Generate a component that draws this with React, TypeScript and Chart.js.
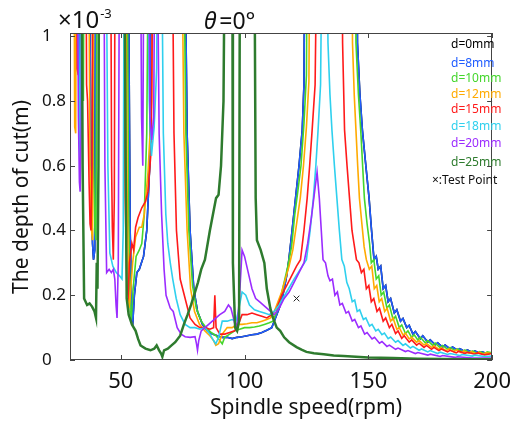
import React, { useEffect, useRef } from "react";
import { Chart, registerables } from "chart.js";

Chart.register(...registerables);

const speedTicks = [50, 100, 150, 200];
const depthTicks = [0, 0.2, 0.4, 0.6, 0.8, 1];
const legendLabels = ["d=0mm", "d=8mm", "d=10mm", "d=12mm", "d=15mm", "d=18mm", "d=20mm", "d=25mm"];
const testPoint = [[121, 0.19]];

// [spindle speed (rpm), depth of cut (x1e-3 m)]; values above 1 run off the top
const d8Points = [
  [29.5, 1.6], [33.0, 1.6], [33.5, 0.78], [33.9, 0.74], [34.3, 1.6], [37.0, 1.6], [38.0, 0.6], [38.6, 0.36], [39.0, 0.31], [39.5, 0.34], [40.0, 1.6],
  [52.8, 1.6], [53.8, 0.4], [54.5, 0.13], [54.9, 0.12], [55.5, 0.2], [56.5, 0.27], [57.5, 0.28], [59.2, 0.32], [60.5, 0.4], [61.7, 0.6], [62.6, 1.6],
  [75.5, 1.6], [76.8, 0.7], [78.0, 0.4], [79.5, 0.22], [81, 0.15], [83, 0.11], [85, 0.09], [87, 0.08], [89, 0.075], [91, 0.07], [93, 0.07], [95, 0.066],
  [97, 0.07], [99, 0.072], [101, 0.075], [103, 0.078], [105, 0.08], [107, 0.085], [109, 0.092], [111, 0.1], [112.5, 0.13], [114, 0.16], [115.5, 0.2],
  [117, 0.26], [117.9, 0.31], [119.2, 0.4], [120.6, 0.5], [122, 0.6], [123.3, 0.71], [124, 0.85], [124.6, 1.6],
  [145.2, 1.6], [145.6, 0.98], [146.6, 0.82], [147.6, 0.71], [149, 0.6], [150.3, 0.5], [151.3, 0.4], [152.3, 0.31], [153.2, 0.32], [154, 0.28],
  [155, 0.29], [156, 0.22], [157, 0.23], [158, 0.18], [159, 0.19], [160.5, 0.145], [161.5, 0.155], [163, 0.12], [164, 0.128], [165.5, 0.1],
  [166.5, 0.107], [168, 0.08], [169, 0.088], [171, 0.066], [172, 0.075], [174, 0.055], [175, 0.062], [177, 0.047], [178, 0.053], [180, 0.04],
  [181, 0.046], [183, 0.034], [184, 0.04], [186, 0.03], [187, 0.035], [189, 0.026], [190, 0.031], [192, 0.023], [193, 0.028], [195, 0.021],
  [196, 0.025], [198, 0.019], [200, 0.023],
];
const d0Points = d8Points;

const d10Points = [
  [29.5, 1.6], [34.0, 1.6], [34.5, 0.82], [34.9, 0.8], [35.3, 1.6], [38.0, 1.6], [39.0, 0.6], [39.6, 0.4], [40.0, 0.37], [40.5, 1.6],
  [52.3, 1.6], [53.2, 0.45], [53.8, 0.15], [54.3, 0.13], [55.0, 0.22], [56.2, 0.32], [57.5, 0.34], [58.5, 0.36], [59.5, 0.45], [60.5, 0.7], [61.5, 1.6],
  [75.0, 1.6], [76.3, 0.7], [77.5, 0.4], [79, 0.23], [80.5, 0.16], [82.5, 0.12], [84.5, 0.1], [86.5, 0.085], [88.5, 0.075], [90, 0.06], [91, 0.05],
  [92, 0.07], [94, 0.08], [96, 0.09], [98, 0.095], [100, 0.1], [102, 0.1], [104, 0.102], [106, 0.105], [108, 0.11], [110, 0.115], [111.5, 0.12],
  [113, 0.15], [114.5, 0.19], [116, 0.24], [117.5, 0.29], [119, 0.35], [120.3, 0.45], [121.5, 0.52], [122.8, 0.6], [124, 0.73], [125, 0.88], [125.5, 1.6],
  [144.5, 1.6], [145, 0.98], [146, 0.82], [147, 0.7], [148.4, 0.5], [149.5, 0.42], [150.5, 0.36], [151.2, 0.3], [152.2, 0.31], [153.2, 0.25],
  [154.2, 0.26], [155.2, 0.2], [156.2, 0.21], [157.5, 0.16], [158.5, 0.17], [160, 0.125], [161, 0.135], [162.5, 0.1], [163.5, 0.108], [165, 0.082],
  [166, 0.09], [167.5, 0.07], [168.5, 0.078], [170, 0.062], [171, 0.07], [173, 0.053], [174, 0.06], [176, 0.045], [177, 0.052], [179, 0.038],
  [180, 0.045], [182, 0.033], [183, 0.039], [185, 0.029], [186, 0.034], [188, 0.025], [189, 0.031], [191, 0.022], [192, 0.028], [194, 0.02],
  [195, 0.026], [197, 0.019], [198, 0.025], [200, 0.022],
];

const d12Points = [
  [29.5, 1.6], [31.0, 1.6], [31.4, 0.72], [31.8, 0.7], [32.2, 1.6], [36.8, 1.6], [37.6, 0.6], [38.2, 0.4], [38.6, 0.37], [39.2, 1.6],
  [51.8, 1.6], [52.6, 0.5], [53.3, 0.16], [53.8, 0.19], [54.8, 0.3], [56, 0.38], [57.5, 0.41], [58.5, 0.41], [59.5, 0.45], [61, 0.58], [62.5, 0.8], [63.5, 1.6],
  [74.3, 1.6], [75.5, 0.7], [76.8, 0.4], [78.2, 0.22], [79.8, 0.15], [81.8, 0.11], [84, 0.09], [86, 0.075], [87.5, 0.06], [88.4, 0.045], [89.5, 0.05],
  [91, 0.08], [93, 0.1], [95, 0.1], [97, 0.11], [99, 0.11], [101, 0.112], [103, 0.115], [105, 0.115], [107, 0.12], [109, 0.125], [110.5, 0.13],
  [112, 0.15], [113.5, 0.18], [115, 0.21], [116.5, 0.25], [118, 0.29], [119.5, 0.34], [121, 0.42], [122.5, 0.5], [123.8, 0.6], [125, 0.72],
  [126, 0.86], [126.6, 1.6], [143.2, 1.6], [143.6, 0.98], [144.3, 0.82], [145, 0.71], [145.7, 0.6], [146.4, 0.5], [147.4, 0.42], [148.3, 0.35],
  [149.2, 0.31], [150.4, 0.28], [151.4, 0.29], [152.4, 0.22], [153.4, 0.23], [154.4, 0.18], [155.4, 0.19], [156.6, 0.15], [157.6, 0.16], [159, 0.12],
  [160, 0.13], [161.5, 0.095], [162.5, 0.1], [164, 0.077], [165, 0.083], [166.5, 0.065], [167.5, 0.07], [169.5, 0.055], [170.5, 0.06],
  [172.5, 0.046], [173.5, 0.051], [175.5, 0.039], [176.5, 0.044], [178.5, 0.033], [179.5, 0.038], [181.5, 0.029], [182.5, 0.034], [184.5, 0.026],
  [185.5, 0.031], [187.5, 0.023], [188.5, 0.028], [190.5, 0.021], [191.5, 0.026], [193.5, 0.019], [194.5, 0.024], [196.5, 0.018], [197.5, 0.022],
  [200, 0.02],
];

const d15Points = [
  [29.5, 1.6], [32.0, 1.6], [32.4, 0.9], [32.8, 0.88], [33.2, 1.6], [35.8, 1.6], [36.2, 0.85], [36.6, 0.8], [37.2, 0.55], [37.6, 0.42], [38, 0.4],
  [38.4, 0.6], [38.8, 1.6], [45.8, 1.6], [46.3, 0.6], [46.6, 0.41], [47.0, 0.31], [47.4, 0.5], [47.8, 1.6], [50.8, 1.6], [51.8, 0.5], [52.5, 0.22],
  [53.0, 0.2], [53.5, 0.3], [54.5, 0.36], [55.2, 0.34], [56, 0.41], [57, 0.44], [58.5, 0.47], [60, 0.49], [61, 0.52], [62.3, 0.65], [63.3, 1.6],
  [70.5, 1.6], [71.5, 0.7], [72.5, 0.4], [74, 0.25], [76, 0.19], [78, 0.13], [80, 0.11], [82, 0.1], [84, 0.1], [86, 0.095], [87.5, 0.1], [88, 0.2],
  [88.5, 0.1], [90, 0.08], [92, 0.08], [94, 0.085], [96, 0.09], [98, 0.12], [99, 0.14], [101, 0.14], [103, 0.145], [105, 0.14], [107, 0.135],
  [109, 0.13], [111, 0.14], [113, 0.16], [115, 0.2], [117, 0.23], [119, 0.26], [121, 0.29], [122.6, 0.31], [124, 0.4], [125.3, 0.5], [126.3, 0.6],
  [127.3, 0.71], [128.5, 0.85], [129.7, 1.6], [139.2, 1.6], [139.6, 0.98], [140.4, 0.71], [141.4, 0.6], [142.4, 0.5], [143.4, 0.4], [144.2, 0.36],
  [145.2, 0.31], [146.2, 0.3], [147.2, 0.27], [148.2, 0.28], [149.2, 0.22], [150.2, 0.23], [151.2, 0.18], [152.2, 0.19], [153.5, 0.15], [154.5, 0.16],
  [156, 0.12], [157, 0.13], [158.5, 0.1], [159.5, 0.11], [161, 0.082], [162, 0.09], [163.5, 0.067], [164.5, 0.075], [166.5, 0.055], [167.5, 0.062],
  [169.5, 0.046], [170.5, 0.052], [172.5, 0.039], [173.5, 0.045], [175.5, 0.033], [176.5, 0.039], [178.5, 0.029], [179.5, 0.034], [182, 0.025],
  [183, 0.03], [185.5, 0.022], [186.5, 0.027], [189, 0.02], [190, 0.024], [193, 0.018], [194, 0.022], [197, 0.016], [200, 0.02],
];

const d18Points = [
  [29.5, 1.6], [32.5, 1.6], [33.2, 0.7], [33.6, 0.62], [34.2, 1.6], [43.8, 1.6], [44.8, 0.6], [45.6, 0.33], [46.8, 0.29], [48.2, 0.27], [49.5, 0.26],
  [50.5, 0.25], [51, 0.4], [51.5, 1.6], [60.5, 1.6], [61.5, 0.8], [62.4, 0.63], [63.5, 0.72], [64.5, 0.9], [65.2, 1.6], [66.2, 1.6], [67.2, 0.7],
  [68.2, 0.45], [69, 0.36], [70, 0.3], [71, 0.25], [72.4, 0.19], [74, 0.14], [76, 0.11], [78, 0.1], [80, 0.1], [82, 0.095], [84, 0.1], [86, 0.08],
  [87.5, 0.06], [88.4, 0.05], [89.5, 0.07], [91, 0.12], [93, 0.12], [95, 0.125], [96.5, 0.12], [97.5, 0.15], [99, 0.21], [100.5, 0.2], [102, 0.17],
  [104, 0.155], [106, 0.15], [108, 0.145], [110, 0.14], [112, 0.15], [114, 0.17], [117, 0.21], [120, 0.25], [122.5, 0.28], [125, 0.31], [126.5, 0.4],
  [127.8, 0.5], [128.8, 0.6], [129.7, 0.71], [130.7, 0.85], [131.7, 1.6], [133, 1.6], [133.7, 0.98], [134.5, 0.82], [135.3, 0.71], [136.3, 0.6],
  [137.3, 0.5], [138.3, 0.4], [139.3, 0.31], [140.3, 0.29], [141.3, 0.24], [142.3, 0.22], [143.5, 0.18], [144.5, 0.185], [145.5, 0.15],
  [146.5, 0.155], [148, 0.125], [149, 0.13], [150.5, 0.105], [151.5, 0.11], [153, 0.09], [154, 0.095], [155.5, 0.078], [156.5, 0.083], [158, 0.066],
  [159, 0.071], [161, 0.055], [162, 0.06], [164, 0.045], [165, 0.05], [167, 0.037], [168, 0.042], [170.5, 0.03], [171.5, 0.034], [174, 0.025],
  [175, 0.029], [178, 0.02], [179, 0.024], [182, 0.017], [183, 0.02], [187, 0.014], [188, 0.017], [192, 0.012], [193, 0.015], [197, 0.011],
  [200, 0.012],
];

const d20Points = [
  [29.5, 1.6], [32.3, 1.6], [32.9, 0.75], [33.3, 0.55], [33.6, 0.52], [34.0, 0.72], [34.5, 1.6], [43.0, 1.6], [43.6, 0.6], [44.3, 0.27], [45.3, 0.28],
  [46.2, 0.27], [47.0, 0.28], [47.6, 0.25], [48.1, 0.17], [48.5, 0.13], [49.0, 0.3], [49.6, 1.6], [57.8, 1.6], [58.4, 0.75], [58.9, 0.6], [59.5, 1.6],
  [61.0, 1.6], [61.8, 0.75], [62.5, 0.68], [63.3, 0.75], [64.0, 1.6], [64.4, 1.6], [65.5, 0.7], [66.5, 0.45], [67.5, 0.28], [68.3, 0.2], [70, 0.16],
  [71.2, 0.15], [72.8, 0.1], [74.4, 0.08], [76, 0.072], [78, 0.07], [80, 0.072], [80.6, 0.05], [81, 0.03], [81.5, 0.06], [82.5, 0.09], [84, 0.1],
  [85.5, 0.11], [87, 0.12], [88.5, 0.13], [90, 0.14], [92, 0.15], [93.5, 0.17], [94.5, 0.16], [95.5, 0.13], [96.4, 0.1], [97.2, 0.12], [98, 0.2],
  [99, 0.34], [100, 0.32], [101.5, 0.27], [103, 0.22], [104.5, 0.19], [106, 0.18], [107.5, 0.17], [109, 0.16], [110.5, 0.15], [112, 0.14],
  [114, 0.16], [116, 0.19], [118, 0.21], [120, 0.24], [122, 0.27], [124, 0.3], [125.5, 0.36], [127, 0.44], [128.3, 0.52], [129.3, 0.58],
  [130.2, 0.5], [131, 0.4], [131.7, 0.31], [132.7, 0.3], [133.7, 0.26], [134.5, 0.245], [135.5, 0.25], [136.5, 0.2], [137.5, 0.21], [138.5, 0.17],
  [139.5, 0.175], [141, 0.145], [142, 0.15], [143.5, 0.12], [144.5, 0.125], [146, 0.1], [147, 0.105], [148.5, 0.08], [149.5, 0.085], [151.5, 0.065],
  [152.5, 0.07], [154.5, 0.052], [155.5, 0.057], [157.5, 0.042], [158.5, 0.046], [161, 0.033], [162, 0.037], [165, 0.026], [166, 0.029], [169, 0.02],
  [170, 0.023], [174, 0.015], [175, 0.018], [179, 0.011], [180, 0.014], [185, 0.008], [186, 0.01], [192, 0.006], [200, 0.006],
];

const d25Points = [
  [29.5, 1.6], [34.0, 1.6], [34.6, 0.6], [35.2, 0.19], [36.4, 0.17], [37.4, 0.175], [38.4, 0.165], [39.4, 0.15], [40.0, 0.13], [40.3, 0.3],
  [40.6, 0.22], [41.0, 0.6], [41.3, 1.6], [51.3, 1.6], [52, 0.6], [52.4, 0.19], [53.2, 0.14], [54.5, 0.11], [56, 0.09], [57, 0.065], [58, 0.045],
  [60, 0.035], [62, 0.03], [63.5, 0.035], [64.5, 0.045], [65.5, 0.03], [66.3, 0.02], [66.8, 0.01], [67.5, 0.03], [69, 0.035], [70.5, 0.045], [72, 0.055],
  [74, 0.075], [75.5, 0.11], [77, 0.14], [78.4, 0.17], [80, 0.21], [81.2, 0.24], [82.5, 0.28], [84, 0.31], [86, 0.4], [87.5, 0.46], [88.5, 0.5],
  [89.5, 0.51], [90.5, 0.6], [91.5, 0.8], [92.3, 1.6], [95, 1.6], [95.3, 0.3], [96.2, 0.1], [97, 0.09], [97.8, 0.12], [98.2, 1.6], [103.8, 1.6],
  [104.5, 0.5], [105, 0.37], [106.5, 0.34], [108, 0.3], [109, 0.22], [110.4, 0.16], [111.5, 0.13], [113, 0.1], [114.4, 0.09], [116, 0.07],
  [118, 0.055], [121, 0.04], [123, 0.032], [125, 0.025], [128, 0.021], [132, 0.018], [136, 0.014], [140, 0.012], [145, 0.01], [150, 0.008],
  [160, 0.006], [170, 0.004], [180, 0.003], [190, 0.002], [200, 0.002],
];

const seriesPoints = [d0Points, d8Points, d10Points, d12Points, d15Points, d18Points, d20Points, d25Points];
const seriesColors = ["#000000", "#1f5cff", "#44d62c", "#ffaa00", "#ff1a1a", "#2fd0ee", "#9b2cff", "#2e7b2e"];
const seriesWidths = [1.6, 1.6, 1.6, 1.6, 1.6, 1.6, 1.6, 2.5];

const FONT = '"Noto Sans", "Open Sans", sans-serif';

const overlay = {
  id: "overlay",
  afterDraw(chart: any) {
    const { ctx, chartArea: a, scales } = chart;
    ctx.save();
    ctx.strokeStyle = "#444";
    ctx.lineWidth = 1;
    ctx.strokeRect(Math.round(a.left) + 0.5, Math.round(a.top) + 0.5, Math.round(a.right - a.left) - 1, Math.round(a.bottom - a.top) - 1);
    ctx.beginPath();
    for (const v of depthTicks) {
      const y = Math.round(scales.y.getPixelForValue(v)) + 0.5;
      ctx.moveTo(a.left, y); ctx.lineTo(a.left + 5, y);
      ctx.moveTo(a.right, y); ctx.lineTo(a.right - 5, y);
    }
    for (const v of speedTicks) {
      const x = Math.round(scales.x.getPixelForValue(v)) + 0.5;
      ctx.moveTo(x, a.bottom); ctx.lineTo(x, a.bottom - 5);
      ctx.moveTo(x, a.top); ctx.lineTo(x, a.top + 5);
    }
    ctx.stroke();

    ctx.fillStyle = "#111";
    ctx.textAlign = "center";
    ctx.textBaseline = "middle";
    ctx.font = `21px ${FONT}`;
    ctx.fillText("Spindle speed(rpm)", 306, 408);
    ctx.save();
    ctx.translate(22, 197);
    ctx.rotate(-Math.PI / 2);
    ctx.fillText("The depth of cut(m)", 0, 0);
    ctx.restore();

    ctx.textAlign = "left";
    ctx.textBaseline = "alphabetic";
    ctx.font = `24px ${FONT}`;
    ctx.fillText("×10", 58, 28);
    const w = ctx.measureText("×10").width;
    ctx.font = `13px ${FONT}`;
    ctx.fillText("-3", 58 + w + 1, 18);
    ctx.font = `italic 23px ${FONT}`;
    ctx.fillText("θ", 204, 29);
    const tw = ctx.measureText("θ").width;
    ctx.font = `23px ${FONT}`;
    ctx.fillText("=0°", 204 + tw + 3, 29);

    ctx.font = `12px ${FONT}`;
    ctx.textBaseline = "middle";
    const ys = [45, 64, 79, 95, 110, 127, 144, 163];
    legendLabels.forEach((t, i) => {
      ctx.fillStyle = seriesColors[i];
      ctx.fillText(t, 451, ys[i]);
    });
    ctx.fillStyle = "#111";
    ctx.fillText("×:Test Point", 432, 181);
    ctx.restore();
  },
};

export default function App() {
  const ref = useRef<HTMLCanvasElement>(null);
  useEffect(() => {
    document.body.style.margin = "0";
    const datasets: any[] = [
      {
        label: "Test Point",
        type: "scatter",
        data: testPoint.map(([x, y]) => ({ x, y })),
        pointStyle: "crossRot",
        pointRadius: 4,
        borderColor: "#222",
        borderWidth: 1,
        showLine: false,
      },
    ];
    for (let i = seriesPoints.length - 1; i >= 0; i--) {
      datasets.push({
        label: legendLabels[i],
        data: seriesPoints[i].map(([x, y]) => ({ x, y })),
        borderColor: seriesColors[i],
        borderWidth: seriesWidths[i],
        pointRadius: 0,
        tension: 0,
        fill: false,
      });
    }
    const chart = new Chart(ref.current!, {
      type: "line",
      data: { datasets },
      options: {
        animation: false,
        responsive: true,
        maintainAspectRatio: false,
        layout: { padding: { left: 42, top: 33, right: 19.5, bottom: 0 } },
        plugins: { legend: { display: false }, tooltip: { enabled: false } },
        scales: {
          x: {
            type: "linear",
            min: 29.5,
            max: 200,
            grid: { display: false, drawTicks: false },
            border: { display: false },
            afterFit: (s: any) => { s.height = 64; },
            afterBuildTicks: (s: any) => { s.ticks = speedTicks.map((v) => ({ value: v })); },
            ticks: { padding: 9, color: "#111", font: { size: 22, family: FONT } },
          },
          y: {
            min: 0,
            max: 1.01,
            grid: { display: false, drawTicks: false },
            border: { display: false },
            afterFit: (s: any) => { s.width = 28; },
            afterBuildTicks: (s: any) => { s.ticks = depthTicks.map((v) => ({ value: v })); },
            ticks: {
              crossAlign: "far",
              color: "#111",
              font: { size: 17, family: FONT },
              callback: (v: any) => String(v),
            },
          },
        },
      },
      plugins: [overlay],
    });
    return () => chart.destroy();
  }, []);
  return (
    <div style={{ width: 520, height: 424, position: "relative" }}>
      <canvas ref={ref} />
    </div>
  );
}
